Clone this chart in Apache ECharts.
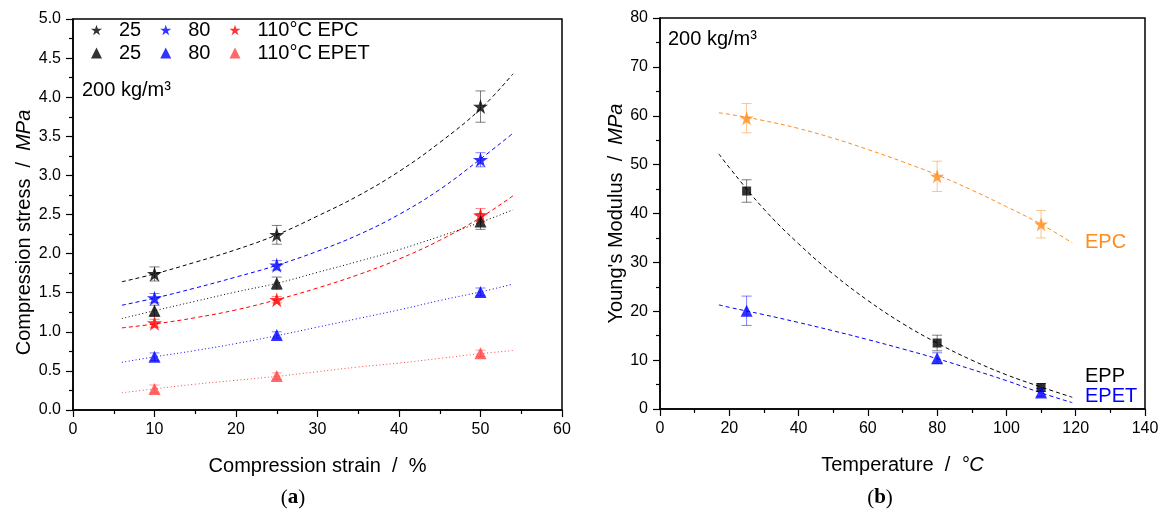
<!DOCTYPE html>
<html>
<head>
<meta charset="utf-8">
<script src="https://cdn.jsdelivr.net/npm/echarts@6/dist/echarts.min.js"></script>
<style>
html, body { margin: 0; padding: 0; background: #fff; }
#chart { width: 1163px; height: 514px; }
</style>
</head>
<body>
<div id="chart"></div>
<script>
// (a) compression stress vs strain
var strain = [10, 25, 50];
var epc25 = [1.74, 2.24, 3.88], epc25Err = [0.09, 0.12, 0.20];
var epc80 = [1.43, 1.85, 3.20], epc80Err = [0.06, 0.06, 0.09];
var epc110 = [1.11, 1.41, 2.49], epc110Err = [0.05, 0.04, 0.085];
var epet25 = [1.27, 1.62, 2.41], epet25Err = [0.07, 0.08, 0.10];
var epet80 = [0.68, 0.96, 1.51], epet80Err = [0.05, 0.04, 0.05];
var epet110 = [0.27, 0.435, 0.725], epet110Err = [0.05, 0.04, 0.04];

var fitStrain = [6, 10, 15, 20, 25, 30, 35, 40, 45, 50, 54];
var fitEpc25 = [1.64, 1.74, 1.89, 2.05, 2.24, 2.48, 2.74, 3.05, 3.42, 3.85, 4.30];
var fitEpc80 = [1.34, 1.43, 1.56, 1.70, 1.85, 2.03, 2.24, 2.50, 2.82, 3.21, 3.54];
var fitEpc110 = [1.05, 1.10, 1.18, 1.28, 1.41, 1.56, 1.73, 1.93, 2.17, 2.46, 2.74];
var fitEpet25 = [1.17, 1.27, 1.39, 1.51, 1.62, 1.76, 1.90, 2.05, 2.22, 2.40, 2.56];
var fitEpet80 = [0.61, 0.68, 0.76, 0.85, 0.95, 1.06, 1.17, 1.28, 1.40, 1.51, 1.61];
var fitEpet110 = [0.22, 0.27, 0.33, 0.38, 0.43, 0.49, 0.55, 0.60, 0.66, 0.72, 0.76];

// (b) Young's modulus vs temperature
var temp = [25, 80, 110];
var modEpc = [59.5, 47.6, 37.8], modEpcErr = [3.0, 3.1, 2.8];
var modEpp = [44.6, 13.5, 4.4], modEppErr = [2.3, 1.6, 0.8];
var modEpet = [20.1, 10.4, 3.4], modEpetErr = [3.0, 1.1, 0.8];

var fitTemp = [17, 20, 30, 40, 50, 60, 70, 80, 90, 100, 110, 119];
var fitModEpc = [60.6, 60.3, 59.0, 57.4, 55.4, 53.1, 50.6, 47.9, 44.8, 41.4, 37.8, 34.0];
var fitModEpp = [52.2, 49.4, 40.9, 33.8, 27.6, 22.2, 17.5, 13.5, 10.0, 7.0, 4.5, 2.4];
var fitModEpet = [21.3, 20.8, 19.3, 17.7, 16.0, 14.2, 12.3, 10.3, 8.1, 5.8, 3.3, 1.3];

var legendNames = {
    'EPC 25': '25', 'EPC 80': '80', 'EPC 110': '110°C EPC',
    'EPET 25': '25', 'EPET 80': '80', 'EPET 110': '110°C EPET'
};

var FONT = '"Liberation Sans", Arial, sans-serif';
var SERIF = '"Liberation Serif", serif';
var STAR = 'path://M12,0 L14.9,8.6 L24,8.6 L16.6,14 L19.4,22.8 L12,17.4 L4.6,22.8 L7.4,14 L0,8.6 L9.1,8.6 Z';
var DASH = [4, 3], DOT = [1, 2.5];

function zip(xs, ys) {
    return xs.map(function (x, i) { return [x, ys[i]]; });
}

function points(name, xs, ys, symbol, size, color, grid) {
    return {
        type: 'scatter', name: name, xAxisIndex: grid, yAxisIndex: grid,
        symbol: symbol, symbolSize: size,
        itemStyle: { color: color },
        data: zip(xs, ys), z: 4
    };
}

function errors(xs, ys, errs, color, grid) {
    return {
        type: 'custom', name: 'err', xAxisIndex: grid, yAxisIndex: grid,
        encode: { x: 0, y: [1, 2] },
        data: xs.map(function (x, i) { return [x, ys[i] - errs[i], ys[i] + errs[i]]; }),
        renderItem: function (params, api) {
            var lo = api.coord([api.value(0), api.value(1)]);
            var hi = api.coord([api.value(0), api.value(2)]);
            var w = 5;
            var st = { stroke: color, lineWidth: 1, opacity: 0.5 };
            return {
                type: 'group', children: [
                    { type: 'line', shape: { x1: hi[0] - w, y1: hi[1], x2: hi[0] + w, y2: hi[1] }, style: st },
                    { type: 'line', shape: { x1: hi[0], y1: hi[1], x2: lo[0], y2: lo[1] }, style: st },
                    { type: 'line', shape: { x1: lo[0] - w, y1: lo[1], x2: lo[0] + w, y2: lo[1] }, style: st }
                ]
            };
        },
        z: 2
    };
}

function fit(xs, ys, color, dash, grid) {
    return {
        type: 'line', name: 'fit', xAxisIndex: grid, yAxisIndex: grid,
        data: zip(xs, ys), smooth: 0.4, symbol: 'none',
        lineStyle: { color: color, width: 1, type: dash },
        z: 3
    };
}

function axis(min, max, interval, fmt, name, gap, pad) {
    return {
        min: min, max: max, interval: interval,
        name: name, nameLocation: 'middle', nameGap: gap,
        nameTextStyle: {
            fontFamily: FONT, fontSize: 20, color: '#000', padding: pad,
            rich: { i: { fontFamily: FONT, fontSize: 20, fontStyle: 'italic', color: '#000' } }
        },
        axisLine: { onZero: false, lineStyle: { color: '#000', width: 1.5 } },
        axisTick: { length: 7, lineStyle: { color: '#000', width: 1.2 } },
        minorTick: { show: true, splitNumber: 2, length: 4, lineStyle: { color: '#000', width: 1.2 } },
        splitLine: { show: false },
        axisLabel: { fontFamily: FONT, fontSize: 16, color: '#000', margin: 12, formatter: fmt }
    };
}

var chart = echarts.init(document.getElementById('chart'));

var legendBase = {
    left: 91, padding: 0, itemGap: 19, itemWidth: 11, itemHeight: 11,
    selectedMode: false,
    textStyle: { fontFamily: FONT, fontSize: 20, color: '#000', padding: [0, 0, 0, 12], lineHeight: 20 },
    formatter: function (n) { return legendNames[n]; }
};

var option = {
    animation: false,
    backgroundColor: '#fff',
    grid: [
        { left: 73, top: 19, width: 489, height: 391, show: true, borderColor: '#000', borderWidth: 1.5 },
        { left: 660, top: 18, width: 485, height: 391, show: true, borderColor: '#000', borderWidth: 1.5 }
    ],
    legend: [
        Object.assign({}, legendBase, { top: 20, data: ['EPC 25', 'EPC 80', 'EPC 110'] }),
        Object.assign({}, legendBase, { top: 43, data: ['EPET 25', 'EPET 80', 'EPET 110'] })
    ],
    xAxis: [
        Object.assign(axis(0, 60, 10, null, 'Compression strain  /  %', 46), { gridIndex: 0 }),
        Object.assign(axis(0, 140, 20, null, 'Temperature  /  {i|°C}', 46), { gridIndex: 1 })
    ],
    yAxis: [
        Object.assign(axis(0, 5, 0.5, function (v) { return v.toFixed(1); },
            'Compression stress  /  {i|MPa}', 37, [0, 36, 0, 0]), { gridIndex: 0 }),
        Object.assign(axis(0, 80, 10, null, "Young's Modulus  /  {i|MPa}", 26), { gridIndex: 1 })
    ],
    graphic: [
        { type: 'text', x: 82, y: 90, style: { text: '200 kg/m³', font: '20px ' + FONT, fill: '#000', verticalAlign: 'middle' } },
        { type: 'text', x: 668, y: 39, style: { text: '200 kg/m³', font: '20px ' + FONT, fill: '#000', verticalAlign: 'middle' } },
        { type: 'text', x: 1085, y: 242, style: { text: 'EPC', font: '20px ' + FONT, fill: '#ff8c1a', verticalAlign: 'middle' } },
        { type: 'text', x: 1085, y: 376, style: { text: 'EPP', font: '20px ' + FONT, fill: '#000', verticalAlign: 'middle' } },
        { type: 'text', x: 1085, y: 396, style: { text: 'EPET', font: '20px ' + FONT, fill: '#0000ff', verticalAlign: 'middle' } },
        { type: 'text', x: 293, y: 498, style: {
            text: '({b|a})', align: 'center', verticalAlign: 'middle',
            font: '21px ' + SERIF, fill: '#000',
            rich: { b: { fontFamily: SERIF, fontSize: 21, fontWeight: 'bold' } } } },
        { type: 'text', x: 880, y: 498, style: {
            text: '({b|b})', align: 'center', verticalAlign: 'middle',
            font: '21px ' + SERIF, fill: '#000',
            rich: { b: { fontFamily: SERIF, fontSize: 21, fontWeight: 'bold' } } } }
    ],
    series: [
        fit(fitStrain, fitEpc25, '#000', DASH, 0),
        fit(fitStrain, fitEpc80, '#0000ff', DASH, 0),
        fit(fitStrain, fitEpc110, '#ff0000', DASH, 0),
        fit(fitStrain, fitEpet25, '#000', DOT, 0),
        fit(fitStrain, fitEpet80, '#0000ff', DOT, 0),
        fit(fitStrain, fitEpet110, '#ff4444', DOT, 0),
        errors(strain, epc25, epc25Err, '#000', 0),
        errors(strain, epc80, epc80Err, '#0000ff', 0),
        errors(strain, epc110, epc110Err, '#ff0000', 0),
        errors(strain, epet25, epet25Err, '#000', 0),
        errors(strain, epet80, epet80Err, '#0000ff', 0),
        errors(strain, epet110, epet110Err, '#ff4444', 0),
        points('EPC 25', strain, epc25, STAR, 15, '#000', 0),
        points('EPC 80', strain, epc80, STAR, 15, '#0000ff', 0),
        points('EPC 110', strain, epc110, STAR, 15, '#ff0000', 0),
        points('EPET 25', strain, epet25, 'triangle', 12, '#000', 0),
        points('EPET 80', strain, epet80, 'triangle', 12, '#0000ff', 0),
        points('EPET 110', strain, epet110, 'triangle', 12, '#ff4444', 0),

        fit(fitTemp, fitModEpc, '#ff8c1a', DASH, 1),
        fit(fitTemp, fitModEpp, '#000', DASH, 1),
        fit(fitTemp, fitModEpet, '#0000ff', DASH, 1),
        errors(temp, modEpc, modEpcErr, '#ff8c1a', 1),
        errors(temp, modEpp, modEppErr, '#000', 1),
        errors(temp, modEpet, modEpetErr, '#0000ff', 1),
        points('EPC mod', temp, modEpc, STAR, 14, '#ff8c1a', 1),
        points('EPP mod', temp, modEpp, 'rect', 9, '#000', 1),
        points('EPET mod', temp, modEpet, 'triangle', 12, '#0000ff', 1)
    ]
};

chart.setOption(option);
</script>
</body>
</html>
